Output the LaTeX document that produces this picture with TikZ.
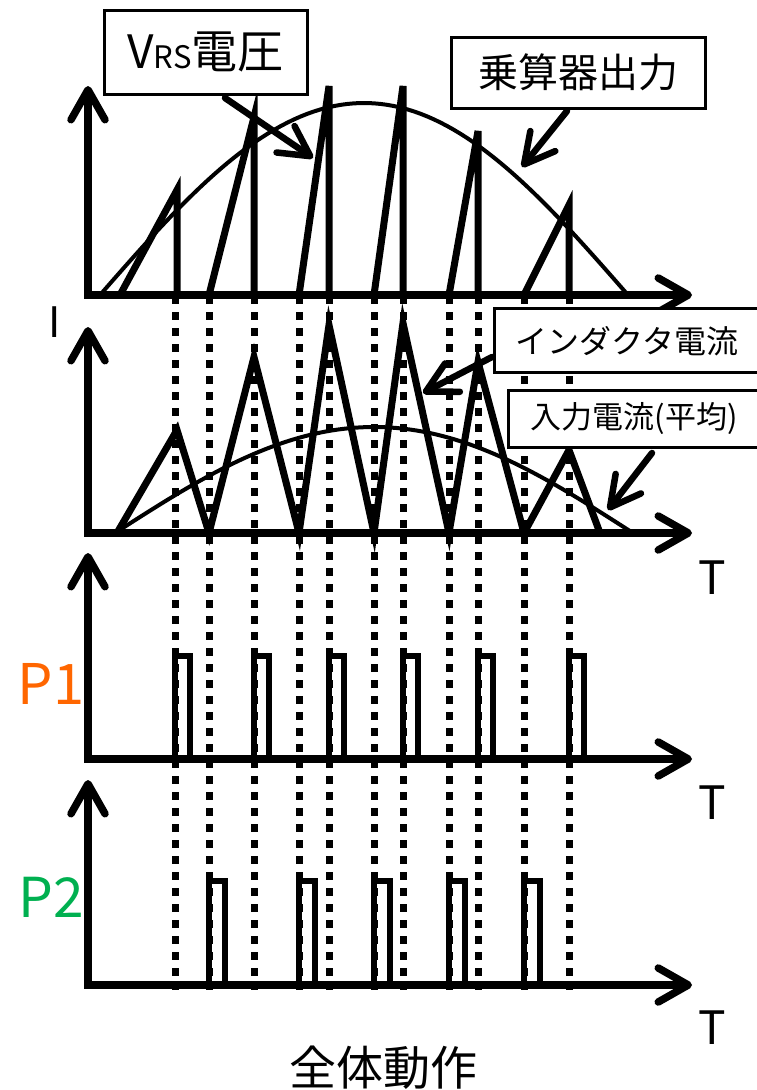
\documentclass[tikz,border=0pt]{standalone}
\usepackage{fontspec}
\setmainfont{Noto Sans CJK JP}
\usetikzlibrary{arrows.meta}
\definecolor{pone}{RGB}{255,102,0}
\definecolor{ptwo}{RGB}{0,176,80}
\newcommand{\fsz}[1]{\fontsize{#1}{#1}\selectfont}
\begin{document}
\begin{tikzpicture}[x=1pt,y=-1pt,
  axisline/.style={line width=7.5pt, line join=miter,
    {Straight Barb[length=30pt,width=34pt,round]}-{Straight Barb[length=30pt,width=34pt,round]}},
  dotline/.style={line width=7pt, dash pattern=on 7.5pt off 8.5pt},
  wave/.style={line width=7pt, line join=miter},
  avg/.style={line width=4pt},
  pulse/.style={line width=6pt, line join=miter},
  callbox/.style={draw, fill=white, line width=3pt, rectangle, inner sep=0pt},
  callarrow/.style={line width=6.5pt, line cap=round,
    -{Straight Barb[length=30pt,width=32pt,round]}},
  lbl/.style={inner sep=0pt, anchor=center},
]
\useasboundingbox (0,0) rectangle (756,1090);

% dotted guide lines
\foreach \x in {175,209,254,299,329,374,403,449,478,524,569}
  \draw[dotline] (\x,296) -- (\x,990);

% axes
\draw[axisline] (88,86) -- (88,295) -- (692,295);
\draw[axisline] (88,327) -- (88,533) -- (692,533);
\draw[axisline] (88,553) -- (88,759) -- (692,759);
\draw[axisline] (88,780) -- (88,985) -- (692,985);

% top chart: multiplier output (half sine)
\draw[avg] plot[domain=0:180, samples=80] ({100+2.93333*\x}, {295-192*sin(\x)});
% top chart: V_RS sawtooth
\draw[wave] (120,295) -- (177,190) -- (177,295);
\draw[wave] (209,295) -- (254,117) -- (254,295);
\draw[wave] (299,295) -- (329,86) -- (329,295);
\draw[wave] (374,295) -- (403,86) -- (403,295);
\draw[wave] (449,295) -- (478,131) -- (478,295);
\draw[wave] (524,295) -- (569,205) -- (569,295);

% middle chart: average input current
\draw[avg] plot[domain=0:180, samples=80] ({115+2.87778*\x}, {533-106*sin(\x)});
% middle chart: inductor current
\draw[wave] (117,533) -- (177,430) -- (209,533) -- (254,357) -- (299,533)
  -- (329,325) -- (374,533) -- (403,323) -- (449,533) -- (478,362)
  -- (524,533) -- (569,450) -- (600,533);

% P1 pulses
\foreach \x in {175,254,329,403,478,569}
  \draw[pulse] (\x,759) -- (\x,656) -- (\x+15,656) -- (\x+15,759);
% P2 pulses
\foreach \x in {209,299,374,449,524}
  \draw[pulse] (\x,985) -- (\x,881) -- (\x+16,881) -- (\x+16,985);

% callout boxes
\node[callbox, minimum width=203pt, minimum height=84pt] (vrsbox) at (205.5,52)
  {\fsz{46}V\fsz{31}RS\fsz{46}電圧};
\node[callbox, minimum width=254pt, minimum height=71pt, font=\fsz{40}] (mulbox) at (578,72.5)
  {乗算器出力};
\node[callbox, minimum width=276pt, minimum height=64pt] (indbox) at (632,340) {};
\node[lbl, font=\fsz{32}] (indtext) at (627,341) {インダクタ電流};
\node[callbox, minimum width=262pt, minimum height=57pt] (avgbox) at (639,418.5) {};
\node[lbl, font=\fsz{31}] (avgtext) at (634,419) {入力電流(平均)};

% callout arrows
\coordinate (a1s) at (225,98);  \coordinate (a1e) at (313,158);
\coordinate (a2s) at (567,111); \coordinate (a2e) at (522,167);
\coordinate (a3s) at (492,357); \coordinate (a3e) at (423,393);
\coordinate (a4s) at (652,453); \coordinate (a4e) at (608,510);
\draw[callarrow] (a1s) -- (a1e);
\draw[callarrow] (a2s) -- (a2e);
\draw[callarrow] (a3s) -- (a3e);
\draw[callarrow] (a4s) -- (a4e);

% axis labels
\node[lbl, font=\fsz{42}] (ilabel) at (55,322) {I};
\node[lbl, font=\fsz{46}] (t1) at (712,578) {T};
\node[lbl, font=\fsz{46}] (t2) at (712,803) {T};
\node[lbl, font=\fsz{46}] (t3) at (712,1028) {T};
\node[lbl, font=\fsz{56}, text=pone] (p1) at (51,684) {P1};
\node[lbl, font=\fsz{55}, text=ptwo] (p2) at (51,897) {P2};
\node[lbl, font=\fsz{47}] (title) at (383,1068) {全体動作};
\end{tikzpicture}
\end{document}
